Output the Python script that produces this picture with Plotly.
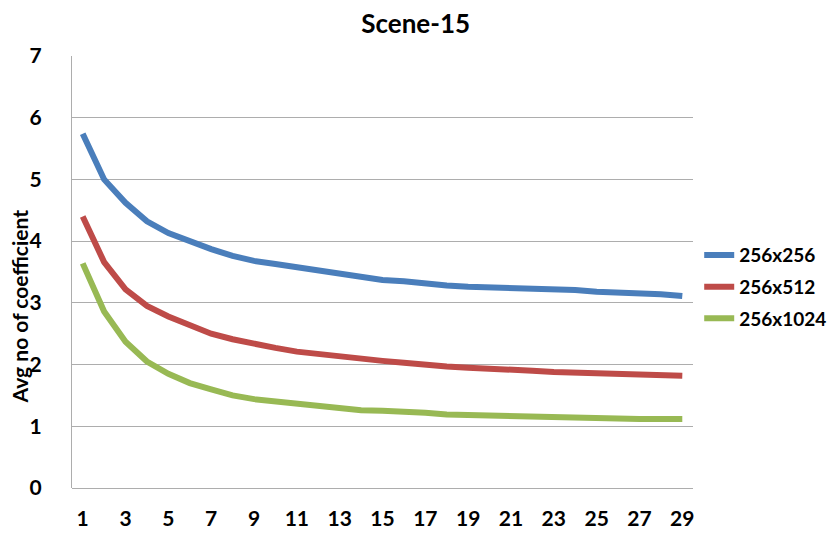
import plotly.graph_objects as go

x_vals = list(range(1, 30))
tick_labels = [str(i) for i in range(1, 30, 2)]

s256 = [5.74, 5.00, 4.62, 4.32, 4.13, 3.99, 3.87, 3.76, 3.68, 3.63,
        3.58, 3.51, 3.46, 3.41, 3.37, 3.35, 3.31, 3.28, 3.26, 3.25,
        3.25, 3.23, 3.22, 3.21, 3.18, 3.17, 3.16, 3.14, 3.11]
s512 = [4.40, 3.66, 3.22, 2.95, 2.78, 2.64, 2.50, 2.41, 2.33, 2.27,
        2.21, 2.17, 2.12, 2.09, 2.06, 2.03, 1.99, 1.97, 1.95, 1.94,
        1.91, 1.90, 1.88, 1.87, 1.86, 1.85, 1.85, 1.84, 1.82]
s1024 = [3.64, 2.86, 2.37, 2.05, 1.85, 1.70, 1.60, 1.50, 1.44, 1.40,
         1.37, 1.32, 1.29, 1.26, 1.25, 1.24, 1.22, 1.19, 1.18, 1.17,
         1.17, 1.15, 1.14, 1.15, 1.13, 1.11, 1.12, 1.12, 1.12]

series_names = ["256x256", "256x512", "256x1024"]
colors = ["#4A7EBB", "#BE4B48", "#98B954"]
FONT = "Lato"

fig = go.Figure()
for name, ys, c in zip(series_names, [s256, s512, s1024], colors):
    fig.add_trace(go.Scatter(x=x_vals, y=ys, mode="lines", name=f"<b>{name}</b>",
                             legendgroup=name,
                             line=dict(color=c, width=6)))

# page has an 8px body margin, so the figure is sized 827x528
fig.update_layout(
    width=827, height=528,
    paper_bgcolor="white", plot_bgcolor="white",
    margin=dict(l=64, r=142, t=48, b=48, autoexpand=False),
    title=dict(text="<b>Scene-15</b>", x=0.493, xanchor="center", y=0.97, yanchor="middle",
               font=dict(family=FONT, size=26, color="black")),
    font=dict(family=FONT, color="black"),
    showlegend=True,
    legend=dict(x=1.01, y=0.465, xanchor="left", yanchor="middle",
                font=dict(family=FONT, size=19, color="black"),
                itemwidth=30, tracegroupgap=4, bgcolor="rgba(0,0,0,0)"),
)
fig.update_xaxes(
    range=[0.5, 29.5], tickmode="array",
    tickvals=list(range(1, 30, 2)), ticktext=[f"<b>{t}</b>" for t in tick_labels],
    showgrid=False, zeroline=False, showline=False,
    ticks="", ticklabelstandoff=16,
    tickfont=dict(family=FONT, size=21, color="black"),
)
fig.update_yaxes(
    range=[0, 7], tickmode="array", tickvals=list(range(0, 8)),
    ticktext=[f"<b>{i}</b>" for i in range(0, 8)],
    showgrid=True, gridcolor="#ADADAD", gridwidth=1,
    zeroline=True, zerolinecolor="#ADADAD", zerolinewidth=1,
    showline=True, linecolor="#ADADAD", linewidth=1,
    ticks="", ticklabelstandoff=25,
    tickfont=dict(family=FONT, size=21, color="black"),
)
fig.add_annotation(text="<b>Avg no of coefficient</b>", textangle=-90,
                   xref="paper", yref="paper", x=-0.084, y=0.42,
                   xanchor="center", yanchor="middle",
                   showarrow=False, font=dict(family=FONT, size=21, color="black"))

fig.write_html("out.html")
